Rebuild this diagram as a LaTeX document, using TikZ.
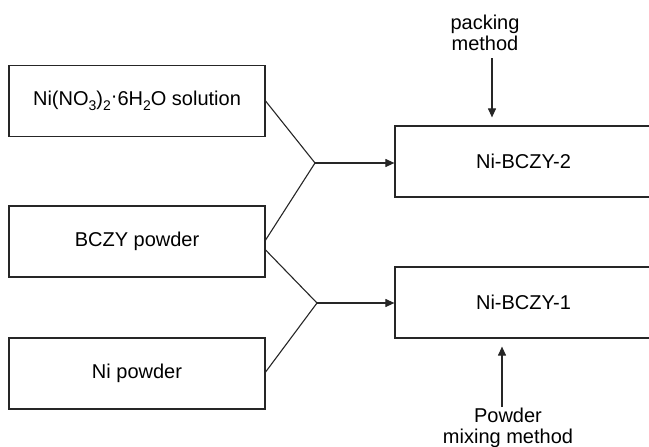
\documentclass[tikz,border=0pt]{standalone}
\usepackage{fontspec}
\setmainfont{Liberation Sans}
\usetikzlibrary{arrows.meta,calc}
\newcommand{\chsub}[1]{\raisebox{-0.45ex}{\fontsize{14}{14}\selectfont #1}}
\newcommand{\chdot}{\raisebox{0.3ex}{·}}
\begin{document}
\begin{tikzpicture}[x=1pt,y=-1pt,
  box/.style={draw=black!85,line width=1.2pt,minimum width=256pt,minimum height=71pt,inner sep=0pt,font=\fontsize{20}{22}\selectfont},
  rbox/.style={draw=black!85,line width=1.2pt,minimum width=257pt,minimum height=71pt,inner sep=0pt,font=\fontsize{20}{22}\selectfont},
  conn/.style={line width=1.1pt,draw=black!85},
  arr/.style={conn,-{Triangle[length=9pt,width=8pt]}},
  lbl/.style={font=\fontsize{20}{21}\selectfont,align=center,inner sep=0pt}]
\useasboundingbox (0,0) rectangle (649,447);
\node[box] (b1) at (137,101) {Ni(NO\chsub{3})\chsub{2}\chdot 6H\chsub{2}O solution};
\node[box] (b2) at (137,241.5) {BCZY powder};
\node[box] (b3) at (137,373.5) {Ni powder};
\node[rbox] (r2) at (523.5,161.5) {Ni-BCZY-2};
\node[rbox] (r1) at (523.5,302.5) {Ni-BCZY-1};
\coordinate (j2) at (315,163);
\coordinate (j1) at (317,303);
\draw[conn] (b1.east) -- (j2) -- ($(b2.east)+(0,-1.5)$);
\draw[conn] ($(b2.east)+(0,8.5)$) -- (j1) -- ($(b3.east)+(0,-1.5)$);
\draw[arr] (j2) -- (r2.west |- j2);
\draw[arr] (j1) -- (r1.west |- j1);
\node[lbl] (pk) at (485,33) {packing\\method};
\draw[arr] (492,58) -- ($(r2.north -| 492,0)+(0,-8)$);
\node[lbl] (pw) at (508,428) {Powder\\mixing method};
\coordinate (pa) at (502,407);
\draw[arr] (pa) -- ($(r1.south -| pa)+(0,8)$);
\end{tikzpicture}
\end{document}
